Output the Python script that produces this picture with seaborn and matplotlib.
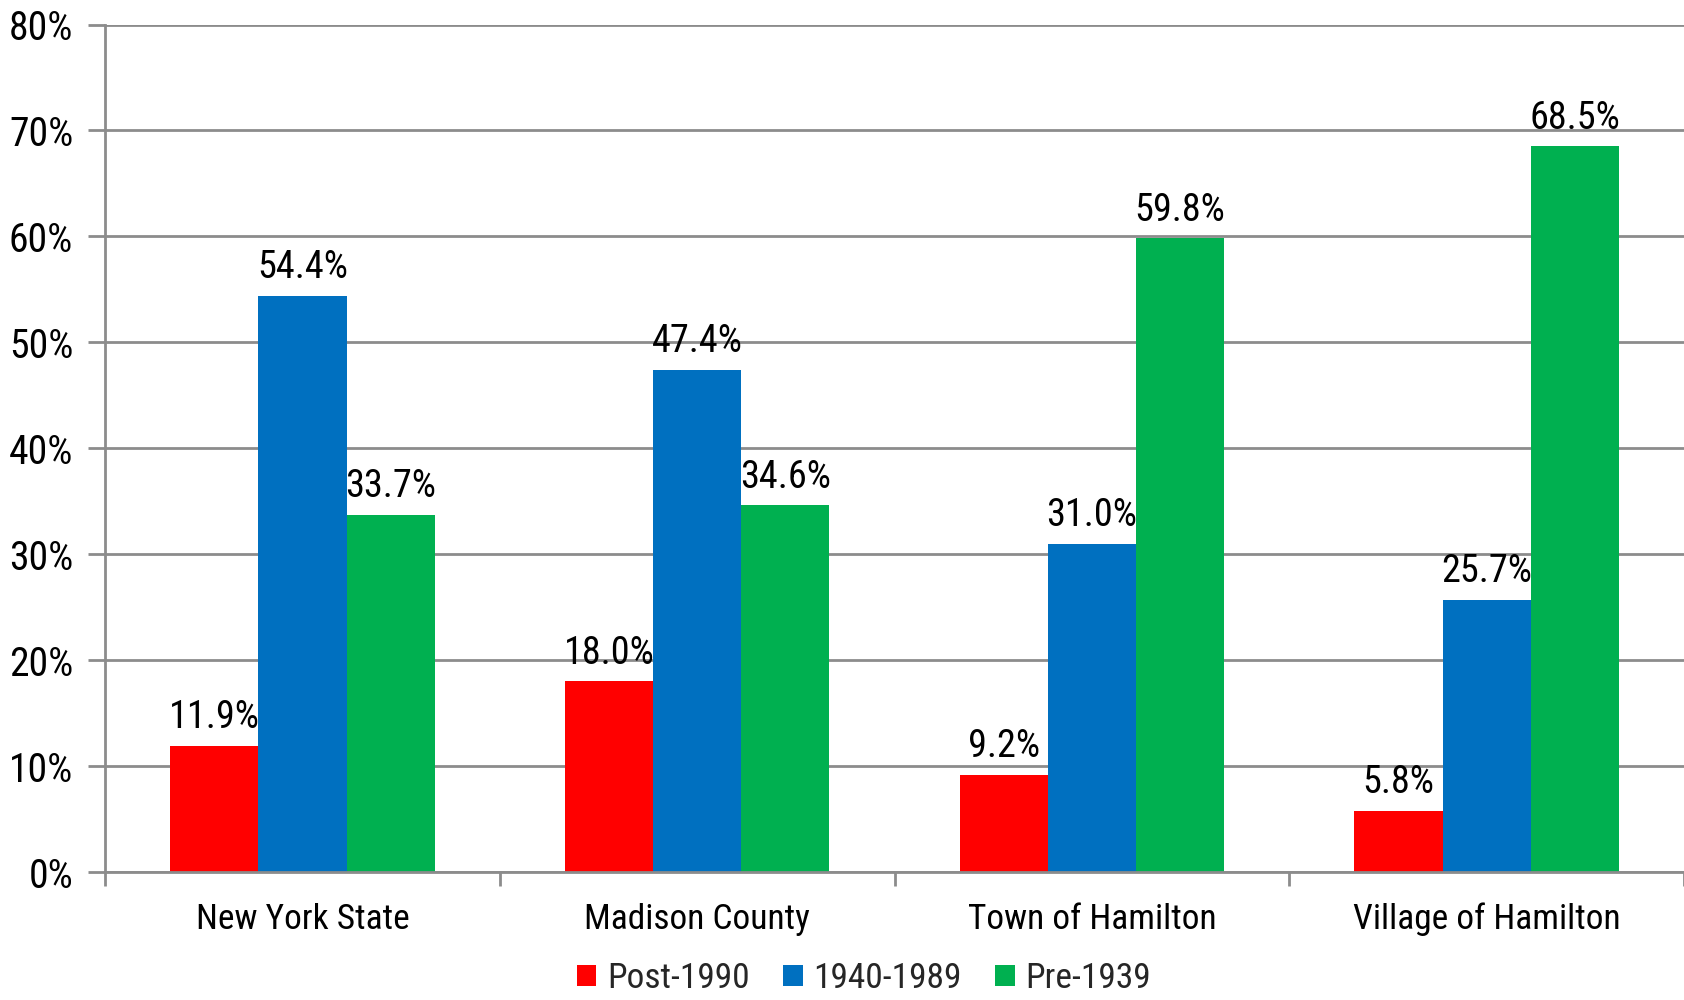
import matplotlib
matplotlib.use("Agg")
import matplotlib.pyplot as plt
from matplotlib import font_manager
from matplotlib.ticker import FixedLocator, PercentFormatter
import seaborn as sns
import pandas as pd

# Share of housing units by year built
places = ["New York State", "Madison County", "Town of Hamilton", "Village of Hamilton"]
periods = ["Post-1990", "1940-1989", "Pre-1939"]
post_1990 = [11.9, 18.0, 9.2, 5.8]
y1940_1989 = [54.4, 47.4, 31.0, 25.7]
pre_1939 = [33.7, 34.6, 59.8, 68.5]
colors = ["#FF0000", "#0070C0", "#00B050"]

rows = []
for period, vals in zip(periods, [post_1990, y1940_1989, pre_1939]):
    for place, v in zip(places, vals):
        rows.append({"place": place, "period": period, "share": v})
df = pd.DataFrame(rows)

sns.set_theme(style="white")


def pick_font():
    for name in ["Liberation Sans Narrow", "Arial Narrow", "Roboto Condensed", "Liberation Sans"]:
        try:
            font_manager.findfont(name, fallback_to_default=False)
            return name
        except Exception:
            continue
    return "DejaVu Sans"


plt.rcParams["font.family"] = [pick_font(), "DejaVu Sans"]

grid_col = "#8c8c8c"
fig = plt.figure(figsize=(16.84, 10), dpi=100)
ax = fig.add_axes([0.0624, 0.128, 0.9376, 0.8475])

sns.barplot(data=df, x="place", y="share", hue="period", order=places,
            hue_order=periods, palette=colors, width=0.67, saturation=1,
            linewidth=0, ax=ax, legend=True)

for cont in ax.containers:
    ax.bar_label(cont, fmt="%.1f%%", padding=7, fontsize=27.5, color="black")

ax.set_ylim(0, 80)
ax.set_xlim(-0.5, 3.5)
ax.set_yticks(range(0, 81, 10))
ax.yaxis.set_major_formatter(PercentFormatter(decimals=0))
ax.yaxis.grid(True, color=grid_col, linewidth=2)
ax.set_axisbelow(True)

# group separators as ticks, labels centred on the groups
ax.xaxis.set_major_locator(FixedLocator([-0.5, 0.5, 1.5, 2.5, 3.5]))
ax.xaxis.set_minor_locator(FixedLocator([0, 1, 2, 3]))
ax.set_xticklabels([])
ax.set_xticklabels(places, minor=True)
ax.tick_params(axis="x", which="major", length=10, width=2, color=grid_col, direction="out", bottom=True)
ax.tick_params(axis="x", which="minor", length=0, labelsize=25.5, pad=22, labelcolor="black")
ax.tick_params(axis="y", length=12, width=2, color=grid_col, direction="out", left=True,
               labelsize=28.5, pad=11, labelcolor="black")

ax.set_xlabel("")
ax.set_ylabel("")
for side in ["top", "right"]:
    ax.spines[side].set_visible(False)
for side in ["left", "bottom"]:
    ax.spines[side].set_color(grid_col)
    ax.spines[side].set_linewidth(2)

handles, labels = ax.get_legend_handles_labels()
ax.legend_.remove()
fig.legend(handles, labels, loc="lower center", bbox_to_anchor=(0.513, -0.027), ncol=3,
           frameon=False, fontsize=25.5, handlelength=0.55, handleheight=0.55,
           handletextpad=0.3, columnspacing=0.95)

fig.savefig("out.png", dpi=100, facecolor="white")
